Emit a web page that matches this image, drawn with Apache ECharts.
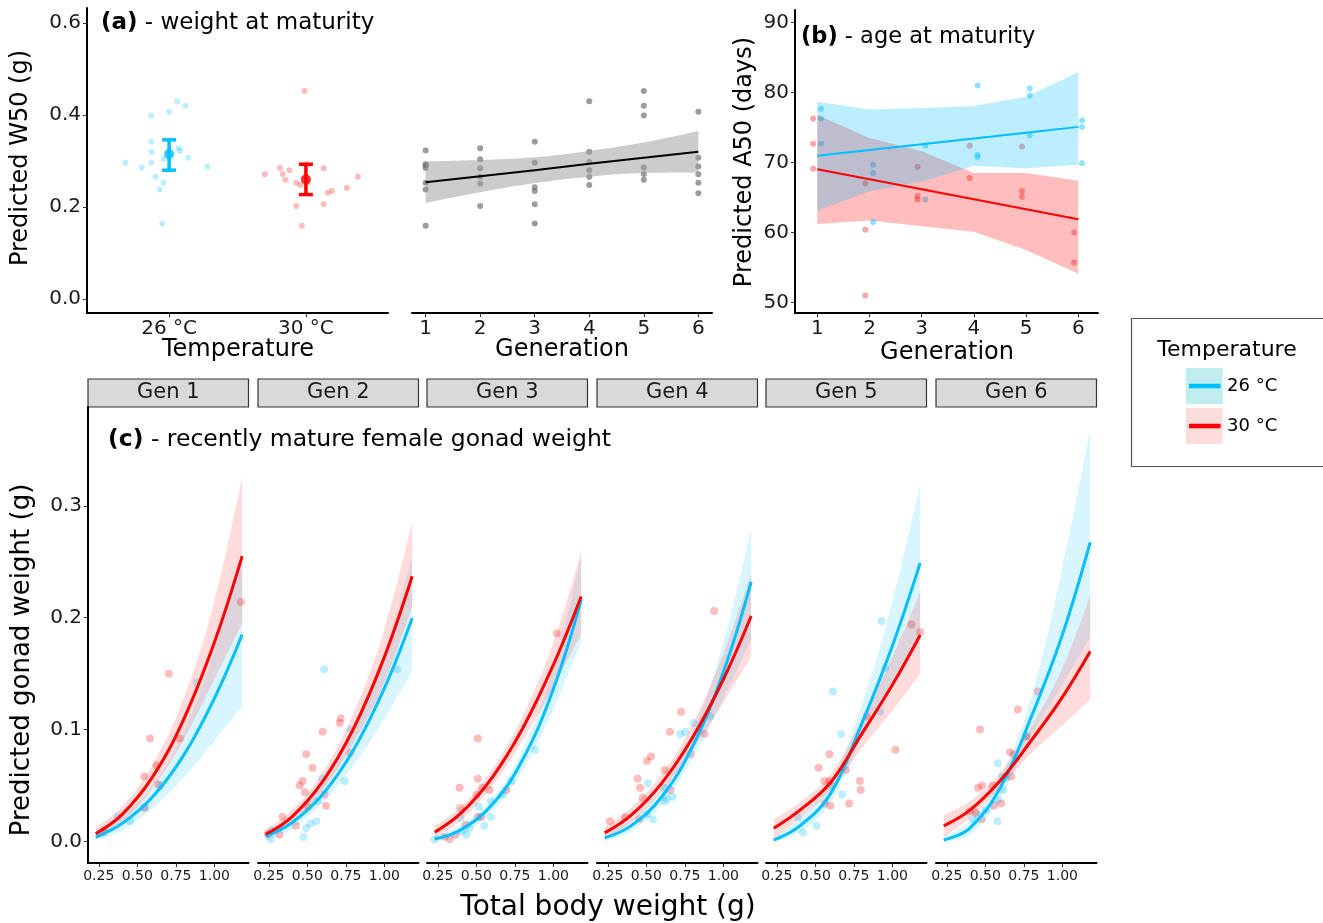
<!DOCTYPE html>
<html>
<head>
<meta charset="utf-8">
<script src="https://cdn.jsdelivr.net/npm/echarts@6/dist/echarts.min.js"></script>
<style>
  html, body { margin: 0; padding: 0; background: #fff; }
  #chart { width: 1323px; height: 923px; }
</style>
</head>
<body>
<div id="chart"></div>
<script>
// ---- data ----
var tempLabels = ['26 °C', '30 °C'];
var genLabels = ['Gen 1', 'Gen 2', 'Gen 3', 'Gen 4', 'Gen 5', 'Gen 6'];
var gens = [1, 2, 3, 4, 5, 6];

// (a) W50 by temperature: [jittered temperature position, W50]
var w50Pts26 = [[0.68,0.296],[0.80,0.286],[0.87,0.399],[1.00,0.407],[1.06,0.430],[1.12,0.420],[0.87,0.342],[0.87,0.320],[0.87,0.297],[0.96,0.305],[1.07,0.328],[1.08,0.322],[1.14,0.307],[1.28,0.288],[0.90,0.266],[0.96,0.253],[0.93,0.238],[0.95,0.164]];
var w50Pts30 = [[1.99,0.452],[1.70,0.271],[1.81,0.285],[1.88,0.280],[1.83,0.272],[1.85,0.259],[1.93,0.253],[1.96,0.248],[2.01,0.252],[2.00,0.293],[2.13,0.284],[2.38,0.266],[2.30,0.242],[2.19,0.235],[2.16,0.231],[2.13,0.206],[1.93,0.202],[1.97,0.159]];
var w50Mean = [0.315, 0.260];
var w50Lo = [0.280, 0.227];
var w50Hi = [0.346, 0.293];

// (a) W50 by generation
var w50ByGen = [[1,0.323],[1,0.293],[1,0.290],[1,0.285],[1,0.253],[1,0.238],[1,0.159],[2,0.328],[2,0.304],[2,0.284],[2,0.266],[2,0.251],[2,0.202],[3,0.342],[3,0.296],[3,0.243],[3,0.235],[3,0.206],[3,0.164],[4,0.430],[4,0.320],[4,0.298],[4,0.280],[4,0.266],[4,0.248],[5,0.452],[5,0.420],[5,0.399],[5,0.286],[5,0.272],[5,0.259],[6,0.407],[6,0.307],[6,0.288],[6,0.271],[6,0.253],[6,0.230]];
var w50GenFit = [0.254, 0.267, 0.280, 0.294, 0.307, 0.320];
var w50GenLo = [0.209, 0.232, 0.252, 0.266, 0.274, 0.275];
var w50GenHi = [0.299, 0.302, 0.308, 0.322, 0.340, 0.365];

// (b) A50 by generation
var a50Pts26 = [[1.07,77.7],[1.07,76.3],[1.07,72.7],[2.07,69.7],[2.07,68.5],[2.07,61.5],[3.07,72.4],[3.07,64.7],[4.07,81.0],[4.07,71.1],[4.07,70.8],[5.07,80.6],[5.07,79.6],[5.07,73.9],[6.07,76.0],[6.07,75.1],[6.07,69.9]];
var a50Pts30 = [[0.92,76.3],[0.92,72.7],[0.92,69.1],[1.92,67.0],[1.92,60.4],[1.92,51.0],[2.92,69.4],[2.92,65.2],[2.92,64.7],[3.92,72.4],[3.92,67.8],[4.92,72.3],[4.92,65.9],[4.92,65.1],[5.92,60.0],[5.92,55.7]];
var a50Fit26 = [70.96, 71.79, 72.62, 73.44, 74.27, 75.10];
var a50Lo26 = [63.1, 65.9, 67.3, 69.5, 69.2, 69.7];
var a50Hi26 = [78.7, 77.6, 77.8, 78.1, 79.4, 82.9];
var a50Fit30 = [69.05, 67.62, 66.19, 64.76, 63.33, 61.90];
var a50Lo30 = [61.2, 61.7, 60.9, 60.1, 57.5, 54.1];
var a50Hi30 = [76.8, 73.5, 71.6, 68.5, 68.5, 67.4];

// (c) gonad weight vs body weight, one row per generation
var bodyGrid = [0.23, 0.4, 0.6, 0.8, 1.0, 1.18];
var gonadFit26 = [
  [0.004, 0.016, 0.040, 0.077, 0.128, 0.185],
  [0.0047, 0.0168, 0.0423, 0.082, 0.137, 0.1995],
  [0.0022, 0.0105, 0.0326, 0.073, 0.1365, 0.216],
  [0.0033, 0.014, 0.040, 0.085, 0.1515, 0.232],
  [0.0013, 0.0140, 0.043, 0.105, 0.175, 0.249],
  [0.0013, 0.012, 0.049, 0.112, 0.185, 0.2674]
];
var gonadLo26 = [
  [0.001, 0.010, 0.030, 0.057, 0.090, 0.121],
  [0.0005, 0.011, 0.035, 0.068, 0.110, 0.152],
  [0.0, 0.006, 0.027, 0.064, 0.118, 0.179],
  [0.0, 0.009, 0.033, 0.074, 0.128, 0.180],
  [0.0, 0.008, 0.035, 0.092, 0.140, 0.186],
  [0.0, 0.006, 0.040, 0.095, 0.140, 0.183]
];
var gonadHi26 = [
  [0.008, 0.022, 0.050, 0.098, 0.170, 0.255],
  [0.009, 0.022, 0.050, 0.097, 0.167, 0.2545],
  [0.005, 0.015, 0.038, 0.082, 0.155, 0.256],
  [0.007, 0.019, 0.047, 0.097, 0.178, 0.280],
  [0.004, 0.021, 0.053, 0.122, 0.215, 0.320],
  [0.005, 0.018, 0.058, 0.130, 0.245, 0.369]
];
var gonadFit30 = [
  [0.007, 0.024, 0.058, 0.109, 0.178, 0.255],
  [0.0065, 0.0221, 0.0537, 0.101, 0.165, 0.237],
  [0.0083, 0.0253, 0.0567, 0.101, 0.158, 0.219],
  [0.0077, 0.0233, 0.0522, 0.0929, 0.145, 0.2015],
  [0.0118, 0.028, 0.053, 0.096, 0.140, 0.1846],
  [0.014, 0.028, 0.055, 0.0907, 0.129, 0.1697]
];
var gonadLo30 = [
  [0.002, 0.017, 0.048, 0.091, 0.145, 0.195],
  [0.002, 0.016, 0.046, 0.088, 0.142, 0.210],
  [0.003, 0.019, 0.049, 0.090, 0.138, 0.186],
  [0.003, 0.017, 0.045, 0.082, 0.124, 0.166],
  [0.003, 0.021, 0.046, 0.083, 0.117, 0.150],
  [0.004, 0.021, 0.049, 0.079, 0.104, 0.1265]
];
var gonadHi30 = [
  [0.013, 0.031, 0.069, 0.128, 0.215, 0.326],
  [0.011, 0.028, 0.062, 0.115, 0.190, 0.286],
  [0.014, 0.031, 0.064, 0.112, 0.178, 0.259],
  [0.013, 0.030, 0.060, 0.105, 0.168, 0.240],
  [0.020, 0.035, 0.060, 0.109, 0.165, 0.2233],
  [0.024, 0.036, 0.062, 0.103, 0.155, 0.220]
];
var gonadPts26 = [
  [[0.886,0.142],[0.371,0.022],[0.452,0.018],[0.29,0.010],[0.65,0.050],[0.55,0.031]],
  [[0.610,0.154],[1.083,0.154],[0.783,0.100],[0.742,0.054],[0.558,0.018],[0.519,0.016],[0.493,0.012],[0.476,0.004],[0.263,0.002],[0.595,0.056],[0.567,0.036],[0.270,0.010]],
  [[0.881,0.082],[0.729,0.054],[0.671,0.042],[0.595,0.036],[0.595,0.022],[0.551,0.014],[0.456,0.012],[0.436,0.006],[0.408,0.009],[0.397,0.021],[0.228,0.002],[0.517,0.031]],
  [[0.914,0.112],[0.807,0.106],[0.753,0.098],[0.721,0.096],[0.510,0.052],[0.671,0.040],[0.632,0.038],[0.619,0.036],[0.543,0.020],[0.504,0.024],[0.617,0.048]],
  [[0.929,0.197],[0.615,0.134],[0.667,0.096],[0.953,0.155],[0.920,0.116],[0.674,0.042],[0.508,0.014],[0.420,0.008],[0.385,0.022],[0.604,0.050]],
  [[0.581,0.070],[0.609,0.058],[0.616,0.046],[0.577,0.018],[0.503,0.028],[0.417,0.020],[0.449,0.024],[0.633,0.057],[0.767,0.094],[0.583,0.037]]
];
var gonadPts30 = [
  [[0.705,0.150],[0.582,0.092],[0.775,0.092],[0.625,0.068],[0.545,0.058],[0.636,0.051],[0.545,0.030],[1.172,0.214],[0.28,0.008]],
  [[0.716,0.110],[0.710,0.106],[0.599,0.098],[0.493,0.078],[0.534,0.066],[0.469,0.054],[0.450,0.050],[0.484,0.044],[0.621,0.032],[0.612,0.042],[0.339,0.022],[0.426,0.014],[0.319,0.006],[0.243,0.007],[0.779,0.079],[0.504,0.031]],
  [[1.022,0.186],[0.510,0.092],[0.510,0.056],[0.391,0.048],[0.695,0.046],[0.395,0.030],[0.502,0.042],[0.538,0.048],[0.586,0.046],[0.510,0.022],[0.532,0.022],[0.430,0.015],[0.365,0.006],[0.328,0.002],[0.295,0.004]],
  [[0.940,0.206],[0.725,0.116],[0.653,0.098],[0.877,0.096],[0.530,0.076],[0.504,0.072],[0.786,0.078],[0.443,0.056],[0.460,0.048],[0.621,0.064],[0.656,0.046],[0.476,0.039],[0.265,0.018],[0.363,0.022],[0.454,0.020]],
  [[1.123,0.194],[1.180,0.187],[0.833,0.112],[1.019,0.082],[0.591,0.078],[0.521,0.066],[0.698,0.064],[0.558,0.054],[0.591,0.054],[0.789,0.054],[0.794,0.046],[0.562,0.034],[0.597,0.032],[0.719,0.034]],
  [[0.839,0.134],[0.711,0.118],[0.466,0.100],[0.659,0.080],[0.685,0.078],[0.763,0.094],[0.668,0.058],[0.547,0.050],[0.453,0.048],[0.479,0.050],[0.603,0.034],[0.557,0.032],[0.438,0.026],[0.475,0.020],[0.40,0.027]]
];

var w50Ticks = [0, 0.2, 0.4, 0.6];
var a50Ticks = [50, 60, 70, 80, 90];
var bodyTicks = [0.25, 0.5, 0.75, 1.0];
var gonadTicks = [0, 0.1, 0.2, 0.3];

// ---- styling ----
var FONT = 'DejaVu Sans';
var BLUE = '#00bfff', RED = '#ff0000';
var tempColors = [BLUE, RED];
var facetLeft = [88, 258, 427, 597, 766, 936];
var facetW = 160.5;

function pairs(xs, ys) { return xs.map(function (x, i) { return [x, ys[i]]; }); }

function xAxis(gi, min, max, ticks, fmt, fs) {
  return {
    type: 'value', gridIndex: gi, min: min, max: max,
    axisLine: { show: true, onZero: false, lineStyle: { color: '#000', width: 2 } },
    axisTick: { show: true, length: 4, customValues: ticks, lineStyle: { color: '#333', width: 1 } },
    axisLabel: { customValues: ticks, formatter: fmt, fontSize: fs, color: '#1a1a1a', fontFamily: FONT, margin: 6 },
    splitLine: { show: false }
  };
}
function yAxis(gi, min, max, ticks, fmt, fs, show) {
  return {
    type: 'value', gridIndex: gi, min: min, max: max, show: show,
    axisLine: { show: true, onZero: false, lineStyle: { color: '#000', width: 2 } },
    axisTick: { show: true, length: 4, customValues: ticks, lineStyle: { color: '#333', width: 1 } },
    axisLabel: { customValues: ticks, formatter: fmt, fontSize: fs, color: '#1a1a1a', fontFamily: FONT, margin: 6 },
    splitLine: { show: false }
  };
}

// band between lo and hi: values come first in each row so the stack is taken on y
function ribbon(stack, gi, xs, lo, hi, color, smooth) {
  return [
    { type: 'line', xAxisIndex: gi, yAxisIndex: gi, stack: stack, encode: { x: 1, y: 0 },
      data: xs.map(function (x, i) { return [lo[i], x]; }), symbol: 'none',
      smooth: smooth, silent: true, lineStyle: { opacity: 0 } },
    { type: 'line', xAxisIndex: gi, yAxisIndex: gi, stack: stack, encode: { x: 1, y: 0 },
      data: xs.map(function (x, i) { return [hi[i] - lo[i], x]; }), symbol: 'none',
      smooth: smooth, silent: true, lineStyle: { opacity: 0 }, areaStyle: { color: color, opacity: 1 } }
  ];
}
function fitLine(gi, xs, ys, color, width, smooth) {
  return { type: 'line', xAxisIndex: gi, yAxisIndex: gi, data: pairs(xs, ys), symbol: 'none',
    smooth: smooth, silent: true, lineStyle: { color: color, width: width } };
}
function points(gi, data, color, size) {
  return { type: 'scatter', xAxisIndex: gi, yAxisIndex: gi, data: data, symbolSize: size,
    itemStyle: { color: color } };
}

var fmt1 = function (v) { return v.toFixed(1); };
var fmt2 = function (v) { return v.toFixed(2); };
var fmt0 = function (v) { return String(v); };

var grids = [
  { left: 87, top: 8, width: 301, height: 305 },
  { left: 412, top: 8, width: 300, height: 305 },
  { left: 795, top: 10, width: 303, height: 303 }
];
var xAxes = [
  xAxis(0, 0.4, 2.6, [1, 2], function (v) { return tempLabels[Math.round(v) - 1]; }, 20),
  xAxis(1, 0.75, 6.25, gens, fmt0, 20),
  xAxis(2, 0.573, 6.377, gens, fmt0, 20)
];
var yAxes = [
  yAxis(0, -0.0304, 0.6326, w50Ticks, fmt1, 20, true),
  yAxis(1, -0.0304, 0.6326, w50Ticks, fmt1, 20, false),
  yAxis(2, 48.49, 91.81, a50Ticks, fmt0, 20, true)
];

var series = [];
// (a) by temperature
series.push(points(0, w50Pts26, 'rgba(0,191,255,0.33)', 6));
series.push(points(0, w50Pts30, 'rgba(255,0,0,0.33)', 6));
series.push({
  type: 'custom', xAxisIndex: 0, yAxisIndex: 0,
  data: w50Mean.map(function (m, i) { return [i + 1, w50Lo[i], w50Hi[i], i]; }),
  renderItem: function (params, api) {
    var x = api.value(0);
    var lo = api.coord([x, api.value(1)]);
    var hi = api.coord([x, api.value(2)]);
    var st = { stroke: tempColors[api.value(3)], lineWidth: 3.5 };
    var hw = 7;
    return { type: 'group', children: [
      { type: 'line', shape: { x1: lo[0], y1: lo[1], x2: hi[0], y2: hi[1] }, style: st },
      { type: 'line', shape: { x1: lo[0] - hw, y1: lo[1], x2: lo[0] + hw, y2: lo[1] }, style: st },
      { type: 'line', shape: { x1: hi[0] - hw, y1: hi[1], x2: hi[0] + hw, y2: hi[1] }, style: st }
    ] };
  }
});
series.push({ type: 'scatter', xAxisIndex: 0, yAxisIndex: 0, symbolSize: 10,
  data: w50Mean.map(function (m, i) { return { value: [i + 1, m], itemStyle: { color: tempColors[i] } }; }) });

// (a) by generation
ribbon('w50gen', 1, gens, w50GenLo, w50GenHi, 'rgba(153,153,153,0.5)', 0.4).forEach(function (s) { series.push(s); });
series.push(points(1, w50ByGen, 'rgba(110,110,110,0.85)', 6));
series.push(fitLine(1, gens, w50GenFit, '#000', 2, false));

// (b)
ribbon('a50r', 2, gens, a50Lo30, a50Hi30, 'rgba(255,0,0,0.26)', false).forEach(function (s) { series.push(s); });
ribbon('a50b', 2, gens, a50Lo26, a50Hi26, 'rgba(0,191,255,0.26)', false).forEach(function (s) { series.push(s); });
series.push(points(2, a50Pts30, 'rgba(240,70,70,0.6)', 6));
series.push(points(2, a50Pts26, 'rgba(0,191,255,0.55)', 6));
series.push(fitLine(2, gens, a50Fit26, BLUE, 2, false));
series.push(fitLine(2, gens, a50Fit30, RED, 2, false));

// (c) facets
var graphics = [];
genLabels.forEach(function (lab, k) {
  var gi = 3 + k;
  grids.push({ left: facetLeft[k], top: 407, width: facetW, height: 456 });
  xAxes.push(xAxis(gi, 0.18, 1.221, bodyTicks, fmt2, 14));
  yAxes.push(yAxis(gi, -0.0192, 0.3883, gonadTicks, fmt1, 20, k === 0));
  ribbon('g26_' + k, gi, bodyGrid, gonadLo26[k], gonadHi26[k], 'rgba(0,191,255,0.15)', 0.4).forEach(function (s) { series.push(s); });
  ribbon('g30_' + k, gi, bodyGrid, gonadLo30[k], gonadHi30[k], 'rgba(255,0,0,0.14)', 0.4).forEach(function (s) { series.push(s); });
  series.push(fitLine(gi, bodyGrid, gonadFit26[k], BLUE, 3, 0.4));
  series.push(fitLine(gi, bodyGrid, gonadFit30[k], RED, 3, 0.4));
  series.push(points(gi, gonadPts26[k], 'rgba(0,191,255,0.33)', 8));
  series.push(points(gi, gonadPts30[k], 'rgba(255,0,0,0.33)', 8));
  graphics.push({ type: 'rect', shape: { x: facetLeft[k], y: 379, width: facetW, height: 28 },
    style: { fill: '#d9d9d9', stroke: '#333', lineWidth: 1.2 } });
  graphics.push({ type: 'text', x: facetLeft[k] + facetW / 2, y: 393,
    style: { text: lab, fontSize: 21, fontFamily: FONT, fill: '#1a1a1a', align: 'center', verticalAlign: 'middle' } });
});

function label(text, x, y, size, rot) {
  return { type: 'text', x: x, y: y, rotation: rot ? Math.PI / 2 : 0,
    style: { text: text, fontSize: size, fontFamily: FONT, fill: '#000', align: 'center', verticalAlign: 'middle' } };
}
function panelTitle(tag, rest, x, y, size) {
  return { type: 'text', x: x, y: y,
    style: { text: '{b|' + tag + '} - ' + rest, fontSize: size, fontFamily: FONT, fill: '#000',
      align: 'left', verticalAlign: 'middle',
      rich: { b: { fontWeight: 'bold', fontSize: size, fontFamily: FONT, fill: '#000' } } } };
}
graphics.push(panelTitle('(a)', 'weight at maturity', 101, 23, 23));
graphics.push(panelTitle('(b)', 'age at maturity', 801, 37, 22.5));
graphics.push(panelTitle('(c)', 'recently mature female gonad weight', 108, 440, 23.5));
graphics.push(label('Predicted W50 (g)', 21, 158, 24, true));
graphics.push(label('Temperature', 238, 350, 24));
graphics.push(label('Generation', 562, 350, 24));
graphics.push(label('Predicted A50 (days)', 745, 162, 24, true));
graphics.push(label('Generation', 947, 353, 24));
graphics.push(label('Predicted gonad weight (g)', 22, 660, 26, true));
graphics.push(label('Total body weight (g)', 608, 908, 28));

// legend
graphics.push({ type: 'rect', shape: { x: 1131.5, y: 318.5, width: 200, height: 148 },
  style: { fill: '#fff', stroke: '#555', lineWidth: 1.2 } });
graphics.push(label('Temperature', 1227, 350, 22));
var keyFill = ['#c0eeee', '#fddcdc'];
tempLabels.forEach(function (t, i) {
  var cy = 386 + i * 40;
  graphics.push({ type: 'rect', shape: { x: 1186, y: cy - 18, width: 36.5, height: 36 }, style: { fill: keyFill[i] } });
  graphics.push({ type: 'line', shape: { x1: 1189, y1: cy, x2: 1220.5, y2: cy }, style: { stroke: tempColors[i], lineWidth: 4.5 } });
  graphics.push({ type: 'text', x: 1227, y: cy,
    style: { text: t, fontSize: 18, fontFamily: FONT, fill: '#000', align: 'left', verticalAlign: 'middle' } });
});

var chart = echarts.init(document.getElementById('chart'));
chart.setOption({
  animation: false,
  backgroundColor: '#fff',
  textStyle: { fontFamily: FONT },
  grid: grids,
  xAxis: xAxes,
  yAxis: yAxes,
  series: series,
  graphic: graphics
});
</script>
</body>
</html>
